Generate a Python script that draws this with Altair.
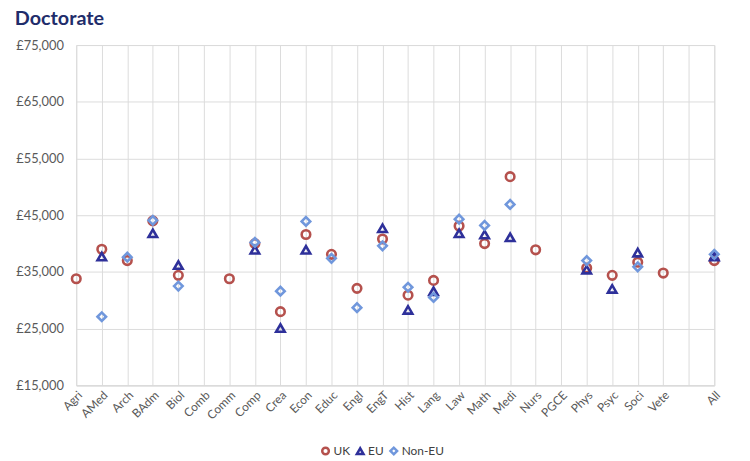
import altair as alt
import pandas as pd

categories = ["Agri", "AMed", "Arch", "BAdm", "Biol", "Comb", "Comm", "Comp", "Crea", "Econ",
              "Educ", "Engl", "EngT", "Hist", "Lang", "Law", "Math", "Medi", "Nurs", "PGCE",
              "Phys", "Psyc", "Soci", "Vete", " ", "All"]

uk = [33800, 39000, 37000, 44000, 34400, None, 33800, 40000, 28000, 41600,
      38100, 32100, 40800, 30900, 33500, 43100, 40000, 51800, 38900, None,
      35700, 34400, 36700, 34800, None, 37000]
eu = [None, 37700, None, 41800, 36200, None, None, 38900, 25100, 38900,
      None, None, 42700, 28300, 31600, 41800, 41600, 41100, None, None,
      35400, 32000, 38400, None, None, 37700]
non_eu = [None, 27100, 37600, 44100, 32500, None, None, 40200, 31600, 43900,
          37400, 28700, 39600, 32300, 30500, 44300, 43200, 46900, None, None,
          37000, None, 35900, None, None, 38100]

series_names = ["UK", "EU", "Non-EU"]
series_colors = ["#b5514d", "#2e309a", "#7097dc"]
series_shapes = ["circle", "triangle-up", "diamond"]

rows = []
order = 0
for name, vals in zip(series_names, [uk, eu, non_eu]):
    for cat, v in zip(categories, vals):
        if v is not None:
            rows.append({"cat": cat, "series": name, "value": v, "order": order})
    order += 1
df = pd.DataFrame(rows)

FONT = "Lato"

chart = alt.Chart(df).mark_point(filled=False, strokeWidth=2.6, size=75, opacity=1).encode(
    x=alt.X("cat:N", sort=categories,
            scale=alt.Scale(type="point", domain=categories, padding=0),
            axis=alt.Axis(title=None, labelAngle=-45, labelAlign="right", labelBaseline="top",
                          labelFontSize=12, labelColor="#595959", labelFont=FONT,
                          ticks=False, domain=True, domainColor="#d9d9d9",
                          grid=True, gridColor="#dcdcdc", labelPadding=4)),
    y=alt.Y("value:Q", scale=alt.Scale(domain=[15000, 75000], nice=False, zero=False),
            axis=alt.Axis(title=None, values=[15000, 25000, 35000, 45000, 55000, 65000, 75000],
                          labelExpr="'£' + format(datum.value, ',')",
                          labelFontSize=13, labelColor="#595959", labelFont=FONT,
                          ticks=False, domain=False, gridColor="#dcdcdc", labelPadding=13)),
    color=alt.Color("series:N", scale=alt.Scale(domain=series_names, range=series_colors),
                    legend=alt.Legend(title=None, orient="none", direction="horizontal",
                                      legendX=246, legendY=404, labelFont=FONT, labelFontSize=12,
                                      labelColor="#404040", symbolStrokeWidth=2.5,
                                      symbolSize=45, symbolFillColor="white", columnPadding=1,
                                      labelOffset=2)),
    shape=alt.Shape("series:N", scale=alt.Scale(domain=series_names, range=series_shapes)),
    order=alt.Order("order:Q"),
).properties(
    width=645, height=344,
    autosize=alt.AutoSizeParams(type="none"),
    padding={"left": 69, "top": 35, "right": 28, "bottom": 74},
    title=alt.TitleParams(text="Doctorate", anchor="start", frame="bounds", dx=-1, offset=10,
                          font=FONT, fontSize=20, fontWeight="bold", color="#1f2d6b"),
).configure_view(stroke=None).configure(background="white")

chart.save("out.html", embed_options={"renderer": "svg", "actions": False})
